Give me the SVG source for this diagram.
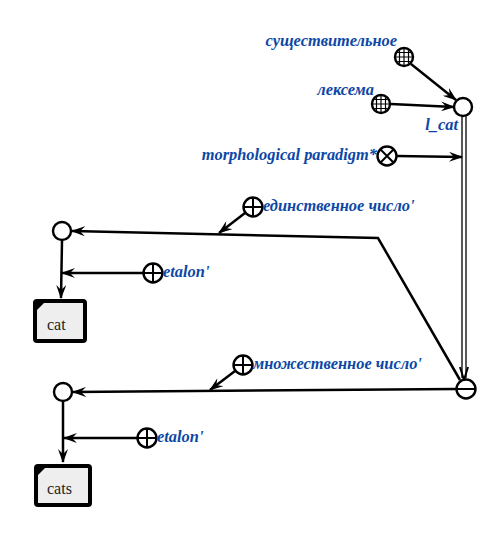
<svg xmlns="http://www.w3.org/2000/svg" width="499" height="551" viewBox="0 0 499 551">
<defs>
<style>
.lbl{font-family:"Liberation Serif",serif;font-weight:bold;font-style:italic;font-size:16.4px;fill:#0d47a6}
.ln{fill:none;stroke:#000;stroke-width:2.5}
.nd{fill:#fff;stroke:#000;stroke-width:2.4}
.sym{fill:none;stroke:#000;stroke-width:2}
.grid{fill:none;stroke:#000;stroke-width:1.2}
.box{fill:#eeeeee;stroke:#000;stroke-width:4}
.bt{font-family:"Liberation Serif",serif;font-size:16px;fill:#222}
</style>
<marker id="ar" viewBox="0 0 14 10" refX="13" refY="5" markerWidth="14" markerHeight="10" markerUnits="userSpaceOnUse" orient="auto">
<path d="M0,0 L14,5 L0,10 L5,5 z" fill="#000"/>
</marker>
<marker id="va" viewBox="0 0 10 14" refX="5" refY="13" markerWidth="10" markerHeight="14" markerUnits="userSpaceOnUse" orient="0">
<path d="M1,0 L5,13 L9,0" fill="none" stroke="#000" stroke-width="2"/>
</marker>
<clipPath id="c1"><circle cx="0" cy="0" r="8"/></clipPath>
<g id="hatch">
<circle cx="0" cy="0" r="9" class="nd"/>
<g clip-path="url(#c1)" class="grid">
<path d="M-4.5,-9V9M0,-9V9M4.5,-9V9M-9,-4.5H9M-9,0H9M-9,4.5H9"/>
</g>
</g>
<g id="plus">
<circle cx="0" cy="0" r="9.5" class="nd"/>
<path d="M0,-9.5V9.5M-9.5,0H9.5" class="sym"/>
</g>
</defs>
<rect width="499" height="551" fill="#fff"/>

<g id="connectors">
<path class="ln" d="M411,64 L456,100" marker-end="url(#ar)"/>
<path class="ln" d="M391,104 L454,107" marker-end="url(#ar)"/>
<path class="ln" d="M397,156 L462,157" marker-end="url(#ar)"/>
<path d="M462,116 V378 M466,116 V378" fill="none" stroke="#000" stroke-width="1.3"/>
<path d="M464,370 V380" fill="none" stroke="none" marker-end="url(#va)"/>
<path class="ln" d="M460,380 L378,238 L72,231" marker-end="url(#ar)"/>
<path class="ln" d="M245,213 L219,233" marker-end="url(#ar)"/>
<path class="ln" d="M62,241 L61,298" marker-end="url(#ar)"/>
<path class="ln" d="M143,273 L62,273" marker-end="url(#ar)"/>
<path class="ln" d="M457,389 L73,392" marker-end="url(#ar)"/>
<path class="ln" d="M235,371 L210,390" marker-end="url(#ar)"/>
<path class="ln" d="M63,402 L63,462" marker-end="url(#ar)"/>
<path class="ln" d="M137,438 L64,438" marker-end="url(#ar)"/>
</g>

<g id="n-sush">
<use href="#hatch" x="404" y="57"/>
<text class="lbl" x="397" y="46" text-anchor="end">существительное</text>
</g>
<g id="n-lex">
<use href="#hatch" x="381" y="104"/>
<text class="lbl" x="374" y="95" text-anchor="end">лексема</text>
</g>
<g id="n-lcat">
<circle cx="463" cy="107" r="9" class="nd"/>
<text class="lbl" x="458" y="130" text-anchor="end">l_cat</text>
</g>
<g id="n-morph">
<circle cx="387" cy="156" r="9.5" class="nd"/>
<path d="M380.3,149.3L393.7,162.7M393.7,149.3L380.3,162.7" class="sym"/>
<text class="lbl" x="377" y="160" text-anchor="end">morphological paradigm*</text>
</g>
<g id="n-minus">
<circle cx="466" cy="389" r="9.5" class="nd"/>
<path d="M456.5,389H475.5" class="sym"/>
</g>
<g id="n-sg">
<use href="#plus" x="253" y="207"/>
<text class="lbl" x="263" y="211">единственное число'</text>
</g>
<g id="n-sgnode">
<circle cx="62" cy="231" r="9" class="nd"/>
</g>
<g id="n-et1">
<use href="#plus" x="153" y="273"/>
<text class="lbl" x="163" y="277">etalon'</text>
</g>
<g id="n-cat">
<rect x="35" y="301" width="50" height="40" rx="2" class="box"/>
<path d="M37,303 H44 L37,310 Z" fill="#000"/>
<text class="bt" x="47" y="330">cat</text>
</g>
<g id="n-pl">
<use href="#plus" x="243" y="365"/>
<text class="lbl" x="253" y="369">множественное число'</text>
</g>
<g id="n-plnode">
<circle cx="63" cy="392" r="9" class="nd"/>
</g>
<g id="n-et2">
<use href="#plus" x="147" y="438"/>
<text class="lbl" x="157" y="442">etalon'</text>
</g>
<g id="n-cats">
<rect x="36" y="466" width="54" height="39" rx="2" class="box"/>
<path d="M38,468 H45 L38,475 Z" fill="#000"/>
<text class="bt" x="47" y="494">cats</text>
</g>
</svg>
